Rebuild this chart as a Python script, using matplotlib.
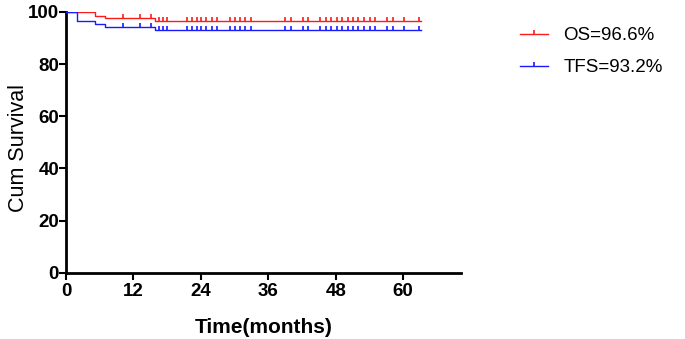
import numpy as np
import matplotlib
matplotlib.use("Agg")
import matplotlib.pyplot as plt
from matplotlib.lines import Line2D

# step curves: event times (months) and survival (%) after each event
os_times = [0, 5.1, 7.0, 15.8]
os_surv = [100, 98.5, 97.5, 96.6]
tfs_times = [0, 1.9, 5.1, 7.0, 15.8]
tfs_surv = [100, 96.6, 95.5, 94.3, 93.2]
follow_end = 63.2

# censored observations (months), shared by both curves
censored = [10.2, 13.2, 15.1, 16.6, 17.3, 18.0, 21.5, 22.4, 23.3, 24.1, 25.0,
            25.9, 26.8, 29.2, 30.1, 31.0, 31.9, 33.0, 39.0, 40.0, 42.2, 43.1,
            45.2, 46.3, 47.2, 48.2, 49.1, 50.1, 51.0, 52.0, 53.0, 54.1, 55.0,
            57.2, 58.2, 60.1, 62.9]

series = [("OS=96.6%", os_times, os_surv, "#ff1a1a"),
          ("TFS=93.2%", tfs_times, tfs_surv, "#1a1aff")]

x_ticks = [0, 12, 24, 36, 48, 60]
y_ticks = [0, 20, 40, 60, 80, 100]

plt.rcParams['font.family'] = ['Liberation Sans', 'DejaVu Sans']

fig = plt.figure(figsize=(6.85, 3.39), dpi=100)
ax = fig.add_axes([0.0964, 0.195, 0.5766, 0.770])

handles = []
for label, t, s, color in series:
    xs = list(t) + [follow_end]
    ys = list(s) + [s[-1]]
    ax.step(xs, ys, where='post', color=color, lw=1.0, zorder=3)
    idx = np.searchsorted(t, censored, side='right') - 1
    cs = np.array(s)[idx]
    ax.plot(censored, cs, ls='none', marker=2, ms=3, mew=1.2, color=color, zorder=3)
    handles.append(Line2D([0], [0], color=color, lw=1.0, marker=2, ms=3, mew=1.2,
                          markevery=[1], label=label))

ax.set_xlim(0, 70.3)
ax.set_ylim(0, 100)
ax.set_xticks(x_ticks)
ax.set_yticks(y_ticks)
for side in ['top', 'right']:
    ax.spines[side].set_visible(False)
for side in ['left', 'bottom']:
    ax.spines[side].set_linewidth(2)
ax.tick_params(direction='out', length=5, width=1.5, labelsize=13.5)
ax.tick_params(axis='x', pad=2)
ax.tick_params(axis='y', pad=0)
for lab in ax.get_xticklabels() + ax.get_yticklabels():
    lab.set_fontweight('bold')

ax.set_xlabel("Time(months)", fontsize=15, fontweight='bold', labelpad=13)
ax.set_ylabel("Cum Survival", fontsize=15.5)
ax.yaxis.set_label_coords(-0.093, 0.48)

leg = fig.legend(handles=handles, loc='upper left', bbox_to_anchor=(0.735, 0.97),
                 frameon=False, fontsize=13.5, handlelength=1.45, handletextpad=0.85,
                 labelspacing=0.8)

fig.savefig("out.png", dpi=100)
